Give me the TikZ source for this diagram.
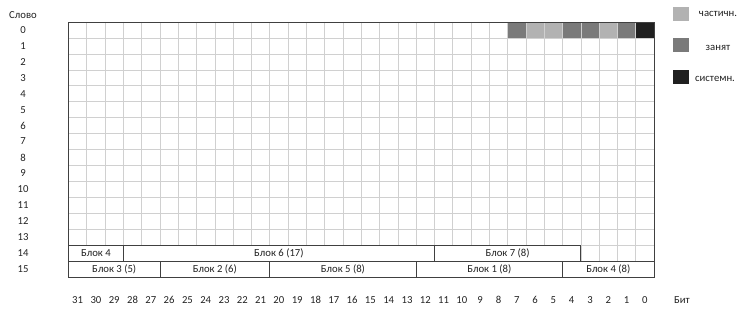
\documentclass[tikz,border=0pt]{standalone}
\usepackage{fontspec}
\setmainfont{Carlito}
\definecolor{partc}{HTML}{B2B2B2}
\definecolor{busyc}{HTML}{7A7A7A}
\definecolor{sysc}{HTML}{202020}
\definecolor{gridc}{HTML}{D0D0D0}
\definecolor{linec}{HTML}{404040}
\definecolor{textc}{HTML}{222222}
\newdimen\cwd \cwd=18.297pt
\newdimen\rhd \rhd=15.9375pt
\def\L{68.5}
\def\R{654}
\def\T{22}
\def\B{277}
\def\cw{18.297}
\def\rh{15.9375}
\begin{document}
\begin{tikzpicture}[x=1pt,y=-1pt,
  txt/.style={font=\fontsize{10.7}{12}\selectfont, text=textc, inner sep=0pt},
  blk/.style={draw=linec, line width=0.8pt, fill=white, minimum height=\rhd, inner sep=0pt, outer sep=0pt, txt},
  legsq/.style={minimum width=16pt, minimum height=14pt, inner sep=0pt}]
\useasboundingbox (0,0) rectangle (746,312);
% row 0 fills
\foreach \i/\c in {24/busyc,25/partc,26/partc,27/busyc,28/busyc,29/partc,30/busyc,31/sysc}
  \fill[\c] ({\L+\i*\cw},\T) rectangle ++(\cw,\rh);
% grid
\foreach \i in {1,...,31}
  \draw[gridc, line width=0.6pt] ({\L+\i*\cw},\T) -- ({\L+\i*\cw},{\T+15*\rh});
\foreach \j in {1,...,14}
  \draw[gridc, line width=0.6pt] (\L,{\T+\j*\rh}) -- (\R,{\T+\j*\rh});
% row 14 blocks
\node[blk, minimum width=3\cwd]  (b4a) at ({\L+1.5*\cw},{\T+14.5*\rh}) {Блок 4};
\node[blk, minimum width=17\cwd] (b6)  at ({\L+11.5*\cw},{\T+14.5*\rh}) {Блок 6 (17)};
\node[blk, minimum width=8\cwd]  (b7)  at ({\L+24*\cw},{\T+14.5*\rh}) {Блок 7 (8)};
% row 15 blocks
\node[blk, minimum width=5\cwd]  (b3)  at ({\L+2.5*\cw},{\T+15.5*\rh}) {Блок 3 (5)};
\node[blk, minimum width=6\cwd]  (b2)  at ({\L+8*\cw},{\T+15.5*\rh}) {Блок 2 (6)};
\node[blk, minimum width=8\cwd]  (b5)  at ({\L+15*\cw},{\T+15.5*\rh}) {Блок 5 (8)};
\node[blk, minimum width=8\cwd]  (b1)  at ({\L+23*\cw},{\T+15.5*\rh}) {Блок 1 (8)};
\node[blk, minimum width=5\cwd]  (b4b) at ({\L+29.5*\cw},{\T+15.5*\rh}) {Блок 4 (8)};
% outer border
\draw[linec, line width=0.9pt] (\L,\T) rectangle (\R,\B);
% word labels
\node[txt] (slovo) at (23,15) {Слово};
\foreach \j in {0,...,15}
  \node[txt] (w\j) at (23,{\T+(\j+0.5)*\rh}) {\j};
% bit labels
\foreach \i in {0,...,31}{
  \pgfmathtruncatemacro\b{31-\i}
  \node[txt] (bit\b) at ({\L+(\i+0.5)*\cw},300) {\b};
}
\node[txt] (bit) at (682,300) {Бит};
% legend
\node[legsq, fill=partc] (lp) at (681,13.7) {};
\node[txt] (lpt) at (718,14) {частичн.};
\node[legsq, fill=busyc] (lb) at (681,45.5) {};
\node[txt] (lbt) at (718,47.5) {занят};
\node[legsq, fill=sysc] (ls) at (681,76.7) {};
\node[txt] (lst) at (715,79) {системн.};
\end{tikzpicture}
\end{document}
